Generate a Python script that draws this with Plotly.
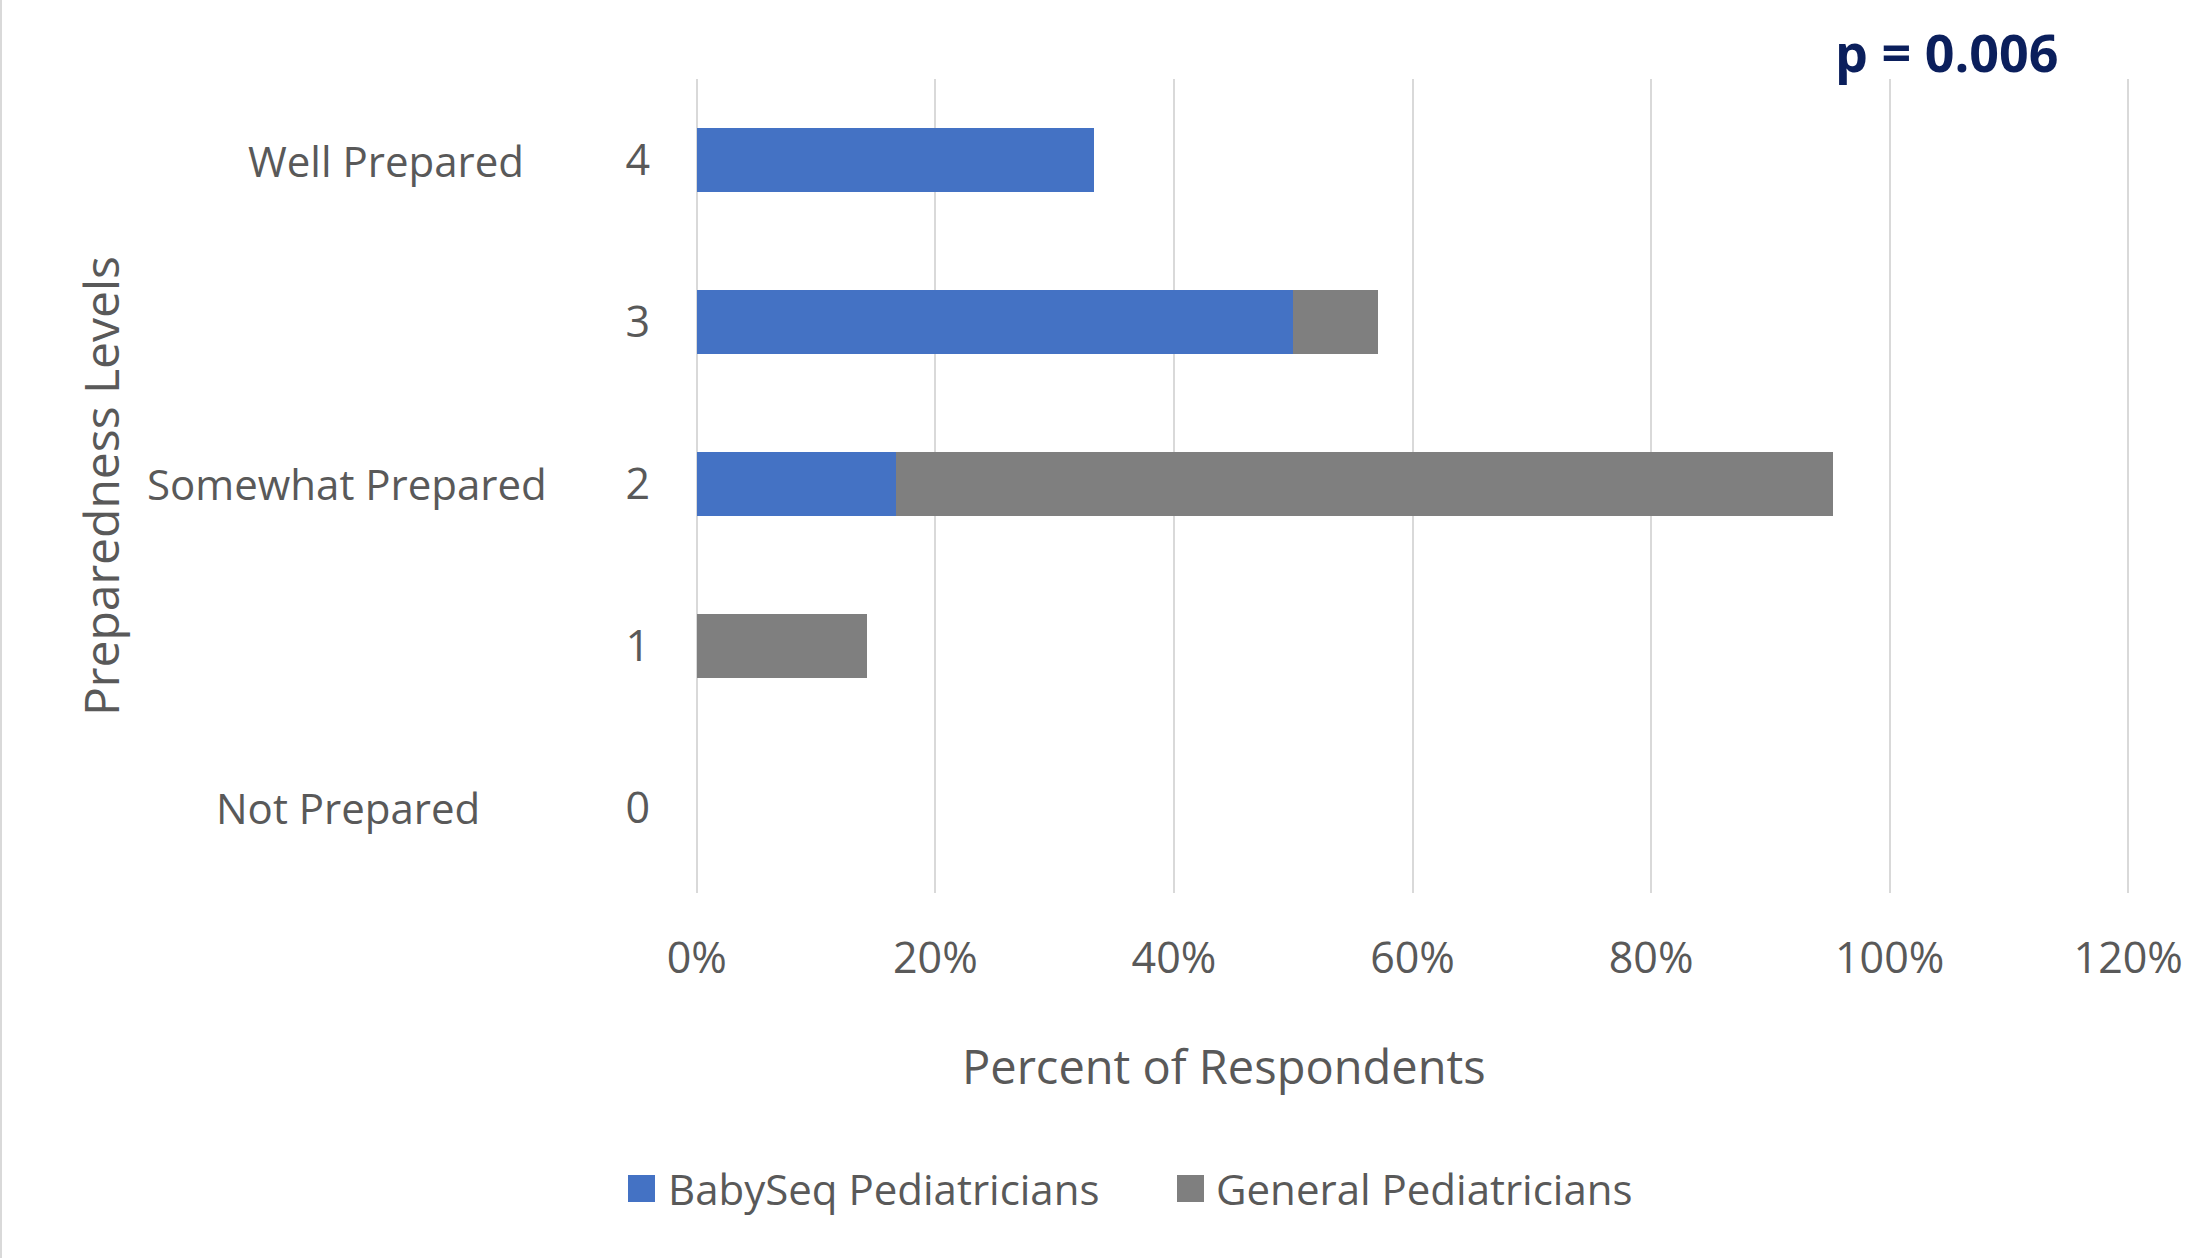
import plotly.graph_objects as go

levels = [0, 1, 2, 3, 4]
level_ticks = ["0", "1", "2", "3", "4"]
level_names = {4: "Well Prepared", 2: "Somewhat Prepared", 0: "Not Prepared"}
babyseq = [0.0, 0.0, 0.1667, 0.50, 0.3333]
general = [0.0, 0.1429, 0.7857, 0.0714, 0.0]
series_names = ["BabySeq Pediatricians", "General Pediatricians"]
x_ticks = [0, 0.2, 0.4, 0.6, 0.8, 1.0, 1.2]
x_tick_text = ["0%", "20%", "40%", "60%", "80%", "100%", "120%"]

BLUE = "#4472C4"
GRAY = "#7F7F7F"
TXT = "#595959"
FONT = "Open Sans"

fig = go.Figure()
fig.add_trace(go.Bar(y=levels, x=babyseq, orientation="h", marker=dict(color=BLUE, line=dict(width=0)),
                     width=0.4, name=series_names[0], showlegend=False))
fig.add_trace(go.Bar(y=levels, x=general, orientation="h", marker=dict(color=GRAY, line=dict(width=0)),
                     width=0.4, name=series_names[1], showlegend=False))

L, R, T, B = 695, 63, 79, 365
W, H = 2193, 1258
pw, ph = W - L - R, H - T - B

def px_x(p):
    return (p - L) / pw

def px_y(p):
    return (H - B - p) / ph

for lv, name in level_names.items():
    cx = {4: 386, 2: 347, 0: 348}[lv]
    fig.add_annotation(x=px_x(cx), xref="paper", y=lv, yref="y", text=name, showarrow=False,
                       xanchor="center", yanchor="middle", font=dict(family=FONT, size=42, color=TXT))

fig.add_annotation(x=px_x(1224), xref="paper", y=px_y(1066), yref="paper", text="Percent of Respondents",
                   showarrow=False, xanchor="center", yanchor="middle",
                   font=dict(family=FONT, size=47, color=TXT))
fig.add_annotation(x=px_x(100), xref="paper", y=px_y(486), yref="paper", text="Preparedness Levels",
                   showarrow=False, textangle=-90, xanchor="center", yanchor="middle",
                   font=dict(family=FONT, size=48, color=TXT))
fig.add_annotation(x=px_x(1946), xref="paper", y=px_y(51), yref="paper", text="<b>p = 0.006</b>",
                   showarrow=False, xanchor="center", yanchor="middle",
                   font=dict(family=FONT, size=52, color="#0B1F5C"))

# custom legend (swatches + labels)
legend_items = [(series_names[0], BLUE, 628, 666), (series_names[1], GRAY, 1177, 1214)]
for name, col, sx, tx in legend_items:
    fig.add_shape(type="rect", xref="paper", yref="paper", x0=px_x(sx), x1=px_x(sx + 27),
                  y0=px_y(1175), y1=px_y(1202), fillcolor=col, line=dict(width=0))
    fig.add_annotation(x=px_x(tx), xref="paper", y=px_y(1188), yref="paper", text=name,
                       showarrow=False, xanchor="left", yanchor="middle",
                       font=dict(family=FONT, size=42, color=TXT))

fig.add_shape(type="line", xref="paper", yref="paper", x0=px_x(1), x1=px_x(1), y0=px_y(0), y1=px_y(H),
              line=dict(color="#D9D9D9", width=2))

fig.update_layout(
    width=W, height=H, barmode="stack",
    margin=dict(l=L, r=R, t=T, b=B, autoexpand=False),
    plot_bgcolor="white", paper_bgcolor="white",
    font=dict(family=FONT, color=TXT, size=43),
    xaxis=dict(range=[-0.0015, 1.2015], tickvals=x_ticks, ticktext=x_tick_text, showgrid=True,
               gridcolor="#D9D9D9", gridwidth=2, zeroline=False, showline=False,
               ticks="", ticklabelstandoff=36, tickfont=dict(family=FONT, size=43, color=TXT)),
    yaxis=dict(range=[-0.525, 4.5], tickvals=levels, ticktext=level_ticks, showgrid=False,
               zeroline=False, showline=False, ticks="", ticklabelstandoff=44,
               tickfont=dict(family=FONT, size=43, color=TXT)),
    showlegend=False,
)

fig.write_html("out.html")
